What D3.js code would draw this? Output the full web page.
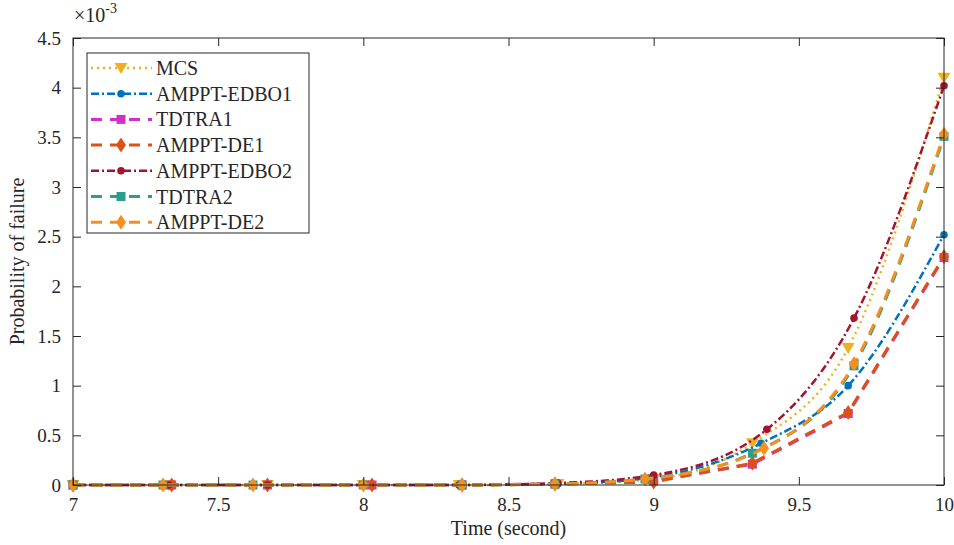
<!DOCTYPE html>
<meta charset="utf-8">
<style>
	body { margin: 0; background: #fff; }
	text { font-family: "Liberation Serif", "Times New Roman", serif; fill: #262626; }
</style>
<body>
<script src="https://d3js.org/d3.v7.min.js"></script>
<script>
	var width = 954;
	var height = 545;
	var margin = {top: 38, right: 10, bottom: 60, left: 73};

	// data (probability in units of 1e-3)
	var tMCS   = [7, 7.33, 7.67, 8.0, 8.33, 8.67, 9.0, 9.34, 9.67, 10];
	var vMCS   = [0, 0, 0, 0, 0, 0.01, 0.06, 0.42, 1.38, 4.10];
	var tEDBO1 = [7, 7.33, 7.67, 8.0, 8.33, 8.67, 9.0, 9.37, 9.67, 10];
	var vEDBO1 = [0, 0, 0, 0, 0, 0.01, 0.08, 0.42, 1.00, 2.52];
	var tTD1   = [7, 7.34, 7.67, 8.03, 8.34, 8.66, 9.0, 9.34, 9.67, 10];
	var vTD1   = [0, 0, 0, 0, 0, 0.01, 0.04, 0.21, 0.72, 2.29];
	var tDE1   = [7, 7.34, 7.67, 8.03, 8.34, 8.66, 9.0, 9.34, 9.67, 10];
	var vDE1   = [0, 0, 0, 0, 0, 0.01, 0.03, 0.22, 0.73, 2.30];
	var tEDBO2 = [7, 7.33, 7.67, 8.0, 8.33, 8.67, 9.0, 9.39, 9.69, 10];
	var vEDBO2 = [0, 0, 0, 0, 0, 0.02, 0.10, 0.56, 1.68, 4.02];
	var tTD2   = [7, 7.31, 7.62, 8.0, 8.34, 8.66, 8.97, 9.34, 9.69, 10];
	var vTD2   = [0, 0, 0, 0, 0, 0.01, 0.06, 0.32, 1.20, 3.51];
	var tDE2   = [7, 7.31, 7.62, 8.0, 8.34, 8.66, 8.97, 9.38, 9.69, 10];
	var vDE2   = [0, 0, 0, 0, 0, 0.01, 0.06, 0.37, 1.22, 3.53];

	var xTicks = [7, 7.5, 8, 8.5, 9, 9.5, 10];
	var yTicks = [0, 0.5, 1, 1.5, 2, 2.5, 3, 3.5, 4, 4.5];

	var series = [
		{name: "MCS",         t: tMCS,   v: vMCS,   color: "#EDB120", dash: "2,4",     w: 2.5, mk: "tri", smooth: true},
		{name: "AMPPT-EDBO1", t: tEDBO1, v: vEDBO1, color: "#0072BD", dash: "8,3,2,3", w: 2.5, mk: "dot", smooth: true},
		{name: "TDTRA1",      t: tTD1,   v: vTD1,   color: "#D030C8", dash: "11,8",    w: 3,   mk: "sq",  smooth: false},
		{name: "AMPPT-DE1",   t: tDE1,   v: vDE1,   color: "#D95319", dash: "11,8",    w: 3,   mk: "dia", smooth: false},
		{name: "AMPPT-EDBO2", t: tEDBO2, v: vEDBO2, color: "#A2142F", dash: "8,3,2,3", w: 2.5, mk: "dot", smooth: true},
		{name: "TDTRA2",      t: tTD2,   v: vTD2,   color: "#2A9D8F", dash: "11,8",    w: 3,   mk: "sq",  smooth: true},
		{name: "AMPPT-DE2",   t: tDE2,   v: vDE2,   color: "#F5901E", dash: "11,8",    w: 3,   mk: "dia", smooth: true}
	];

	var x = d3.scaleLinear().domain([7, 10]).range([margin.left, width - margin.right]);
	var y = d3.scaleLinear().domain([0, 4.5]).range([height - margin.bottom, margin.top]);

	var svg = d3.select("body").append("svg")
		.attr("width", width)
		.attr("height", height);

	function marker(sel, type, color) {
		if (type == "dot") {
			sel.append("circle").attr("r", 3.8).attr("fill", color);
		} else if (type == "sq") {
			sel.append("rect").attr("x", -4.5).attr("y", -4.5).attr("width", 9).attr("height", 9).attr("fill", color);
		} else if (type == "dia") {
			sel.append("path").attr("d", "M0,-7.5L5,0L0,7.5L-5,0Z").attr("fill", color);
		} else if (type == "tri") {
			sel.append("path").attr("d", "M-6.5,-5L6.5,-5L0,6Z").attr("fill", color);
		}
	}

	var line = d3.line()
		.x(function(d) { return x(d[0]); })
		.y(function(d) { return y(d[1]); });

	var plot = svg.append("g");

	series.forEach(function(s) {
		var pts = s.t.map(function(t, i) { return [t, s.v[i]]; });
		line.curve(s.smooth ? d3.curveMonotoneX : d3.curveLinear);
		plot.append("path")
			.datum(pts)
			.attr("d", line)
			.attr("fill", "none")
			.attr("stroke", s.color)
			.attr("stroke-width", s.w)
			.attr("stroke-dasharray", s.dash);
		pts.forEach(function(p) {
			var g = plot.append("g").attr("transform", "translate(" + x(p[0]) + "," + y(p[1]) + ")");
			marker(g, s.mk, s.color);
		});
	});

	// axes box
	var x0 = margin.left, x1 = width - margin.right, y0 = height - margin.bottom, y1 = margin.top;
	svg.append("rect")
		.attr("x", x0).attr("y", y1)
		.attr("width", x1 - x0).attr("height", y0 - y1)
		.attr("fill", "none").attr("stroke", "#262626").attr("stroke-width", 1);

	svg.append("g").attr("transform", "translate(0," + y0 + ")")
		.call(d3.axisBottom(x).tickValues(xTicks).tickSize(-8).tickPadding(13).tickFormat(d3.format("")));
	svg.append("g").attr("transform", "translate(" + x0 + ",0)")
		.call(d3.axisLeft(y).tickValues(yTicks).tickSize(-8).tickPadding(12).tickFormat(d3.format("")));
	svg.append("g").attr("transform", "translate(0," + y1 + ")")
		.call(d3.axisTop(x).tickValues(xTicks).tickSize(-8).tickFormat(""));
	svg.append("g").attr("transform", "translate(" + x1 + ",0)")
		.call(d3.axisRight(y).tickValues(yTicks).tickSize(-8).tickFormat(""));

	svg.selectAll(".domain").remove();
	svg.selectAll(".tick line").attr("stroke", "#262626");
	svg.selectAll(".tick text").style("font-size", "19px").attr("fill", "#262626")
		.style("font-family", "Liberation Serif, serif");

	// exponent label
	var ex = svg.append("text").attr("x", 74).attr("y", 22).style("font-size", "20px");
	ex.append("tspan").text("\u00d710");
	ex.append("tspan").attr("dy", -9).style("font-size", "14px").text("-3");

	svg.append("text")
		.attr("x", (x0 + x1) / 2).attr("y", 535)
		.attr("text-anchor", "middle")
		.style("font-size", "20px")
		.text("Time (second)");

	svg.append("text")
		.attr("transform", "translate(24," + ((y0 + y1) / 2) + ") rotate(-90)")
		.attr("text-anchor", "middle")
		.style("font-size", "20px")
		.text("Probability of failure");

	// legend
	var lg = svg.append("g");
	lg.append("rect")
		.attr("x", 87).attr("y", 53).attr("width", 222).attr("height", 180)
		.attr("fill", "#fff").attr("stroke", "#262626").attr("stroke-width", 1);

	series.forEach(function(s, i) {
		var yy = 68 + i * 25.7;
		lg.append("line")
			.attr("x1", 91).attr("x2", 152).attr("y1", yy).attr("y2", yy)
			.attr("stroke", s.color).attr("stroke-width", s.w)
			.attr("stroke-dasharray", s.dash);
		var g = lg.append("g").attr("transform", "translate(121," + yy + ")");
		marker(g, s.mk, s.color);
		lg.append("text")
			.attr("x", 156).attr("y", yy + 7)
			.style("font-size", "20px")
			.text(s.name);
	});
</script>
</body>
